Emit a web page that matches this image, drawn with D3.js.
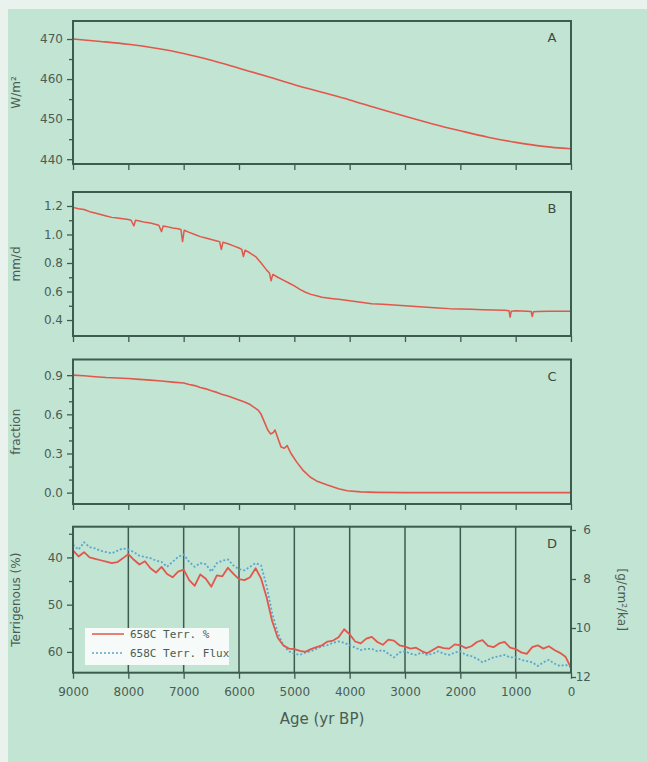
<!DOCTYPE html>
<html>
<head>
<meta charset="utf-8">
<script src="https://cdn.jsdelivr.net/npm/d3@7"></script>
<style>
  body { margin: 0; background: #e9f2ed; }
  svg { display: block; }
</style>
</head>
<body>
<div id="chart"></div>
<script>
// ---- data ----
const ageTicks = [9000, 8000, 7000, 6000, 5000, 4000, 3000, 2000, 1000, 0];

// A: insolation, W/m2
const ageA = [9000, 8500, 8000, 7500, 7000, 6500, 6000, 5500, 5000, 4500, 4000, 3500, 3000, 2500, 2000, 1500, 1000, 500, 0];
const insolation = [470, 469.4, 468.7, 467.7, 466.4, 464.7, 462.7, 460.7, 458.6, 456.7, 454.8, 452.7, 450.7, 448.8, 447.1, 445.5, 444.2, 443.2, 442.6];

// B: precipitation, mm/d
const ageB = [9000, 8900, 8800, 8700, 8600, 8500, 8400, 8300, 8200, 8100, 8000, 7950, 7900, 7870, 7800, 7700, 7600, 7500, 7450, 7400, 7370,
  7300, 7200, 7100, 7050, 7020, 6990, 6900, 6800, 6700, 6600, 6500, 6400, 6350, 6320, 6290, 6200, 6100, 6000, 5950, 5920, 5890,
  5800, 5700, 5600, 5500, 5450, 5420, 5390, 5300, 5200, 5100, 5000, 4900, 4800, 4700, 4600, 4500, 4400, 4300, 4200, 4100, 4000,
  3800, 3600, 3400, 3200, 3000, 2800, 2600, 2400, 2200, 2000, 1800, 1600, 1400, 1200, 1120, 1100, 1080, 1000, 800, 720, 700, 680,
  600, 400, 200, 0];
const precip = [1.19, 1.18, 1.175, 1.16, 1.15, 1.14, 1.13, 1.12, 1.115, 1.11, 1.105, 1.10, 1.06, 1.10, 1.095, 1.085, 1.08, 1.07, 1.065, 1.02, 1.06,
  1.055, 1.045, 1.04, 1.035, 0.95, 1.03, 1.015, 1.0, 0.985, 0.975, 0.965, 0.955, 0.95, 0.895, 0.945, 0.935, 0.92, 0.905, 0.895, 0.845, 0.89,
  0.87, 0.845, 0.80, 0.75, 0.73, 0.675, 0.72, 0.70, 0.68, 0.66, 0.64, 0.615, 0.595, 0.58, 0.57, 0.56, 0.555, 0.55, 0.545, 0.54, 0.535,
  0.525, 0.515, 0.51, 0.505, 0.50, 0.495, 0.49, 0.485, 0.48, 0.478, 0.475, 0.472, 0.47, 0.468, 0.465, 0.42, 0.462, 0.465, 0.462, 0.46, 0.425, 0.458,
  0.46, 0.462, 0.462, 0.462];

// C: vegetation fraction
const ageC = [9000, 8800, 8600, 8400, 8200, 8000, 7800, 7600, 7400, 7200, 7000, 6900, 6800, 6700, 6600, 6500, 6400, 6300, 6200, 6100,
  6000, 5900, 5800, 5700, 5650, 5600, 5540, 5480, 5430, 5380, 5350, 5300, 5240, 5180, 5130, 5060, 4950, 4850, 4715, 4600, 4415,
  4200, 4045, 3800, 3500, 3000, 2000, 1000, 0];
const vegFrac = [0.90, 0.895, 0.888, 0.882, 0.878, 0.875, 0.868, 0.862, 0.855, 0.847, 0.84, 0.828, 0.82, 0.805, 0.795, 0.78, 0.768, 0.752, 0.74, 0.725,
  0.71, 0.695, 0.675, 0.645, 0.63, 0.60, 0.54, 0.48, 0.45, 0.46, 0.48, 0.42, 0.35, 0.34, 0.36, 0.30, 0.23, 0.175, 0.12, 0.09, 0.06,
  0.03, 0.015, 0.006, 0.002, 0.0, 0.0, 0.0, 0.0];

// D: ODP 658C terrigenous % (left axis) and flux (right axis), every 100 yr
const ageD = d3.range(9000, -1, -100);
const terrPct = [38.5, 39.8, 38.9, 40.0, 40.3, 40.6, 40.9, 41.2, 41.0, 40.2,
  39.3, 40.5, 41.5, 40.8, 42.3, 43.2, 42.0, 43.5, 44.2, 43.0,
  42.6, 44.8, 46.0, 43.6, 44.5, 46.2, 43.8, 44.0, 42.2, 43.5,
  44.6, 44.8, 44.2, 42.3, 44.5, 48.5, 53.5, 57.0, 58.6, 59.3,
  59.4, 59.8, 60.0, 59.4, 59.0, 58.6, 57.8, 57.6, 56.9, 55.2,
  56.3, 57.8, 58.2, 57.2, 56.8, 57.9, 58.5, 57.4, 57.6, 58.6,
  58.9, 59.3, 59.1, 59.8, 60.3, 59.6, 58.9, 59.2, 59.3, 58.4,
  58.6, 59.2, 58.8, 57.9, 57.5, 58.7, 59.0, 58.2, 57.9, 59.1,
  59.4, 60.1, 60.4, 59.0, 58.6, 59.3, 58.8, 59.6, 60.2, 61.0,
  63.4];
const terrFlux = [6.6, 6.8, 6.5, 6.7, 6.75, 6.85, 6.9, 6.95, 6.85, 6.75,
  6.8, 6.9, 7.05, 7.1, 7.15, 7.25, 7.3, 7.5, 7.3, 7.1,
  7.0, 7.3, 7.5, 7.35, 7.4, 7.7, 7.35, 7.25, 7.2, 7.45,
  7.6, 7.65, 7.5, 7.35, 7.45, 8.3, 9.4, 10.2, 10.7, 10.95,
  11.05, 11.1, 11.0, 10.95, 10.85, 10.75, 10.7, 10.6, 10.55, 10.6,
  10.7, 10.8, 10.9, 10.85, 10.85, 10.95, 10.9, 11.05, 11.2, 11.0,
  10.95, 11.05, 11.1, 11.0, 11.1, 11.05, 10.95, 11.05, 11.1, 11.0,
  10.95, 11.1, 11.15, 11.25, 11.4, 11.3, 11.2, 11.15, 11.1, 11.2,
  11.2, 11.3, 11.35, 11.4, 11.55, 11.4, 11.3, 11.45, 11.55, 11.5,
  11.6];

const legendLabels = ['658C Terr. %', '658C Terr. Flux'];

// ---- layout ----
const W = 647, H = 762;
const left = 73, right = 571;
const frameColor = '#3d5b4e';
const textColor = '#4a5c53';
const redColor = '#e2574c';
const blueColor = '#5aa6cf';
const font = 'DejaVu Sans, sans-serif';

const svg = d3.select('#chart').append('svg')
  .attr('width', W).attr('height', H);

svg.append('rect').attr('width', W).attr('height', H).attr('fill', '#e9f2ed');
svg.append('rect').attr('x', 8).attr('y', 9).attr('width', W - 8).attr('height', H - 9).attr('fill', '#c2e4d3');

const x = d3.scaleLinear().domain([9000, 0]).range([left, right]);

function styleAxis(g) {
  g.select('.domain').remove();
  g.selectAll('line').attr('stroke', frameColor).attr('stroke-width', 1.3);
  g.selectAll('text').attr('fill', textColor).style('font-family', font).style('font-size', '12px');
}

function drawPanel(p) {
  const y = d3.scaleLinear().domain(p.domain).range([p.bottom, p.top]);

  // minor ticks
  svg.append('g')
    .attr('transform', `translate(${left},0)`)
    .call(d3.axisLeft(y).tickValues(p.minor).tickSize(4).tickFormat(''))
    .call(styleAxis);
  // major ticks
  svg.append('g')
    .attr('transform', `translate(${left},0)`)
    .call(d3.axisLeft(y).tickValues(p.ticks).tickSize(6).tickPadding(4).tickFormat(p.fmt))
    .call(styleAxis);

  // bottom ticks
  const xAxis = d3.axisBottom(x).tickValues(ageTicks).tickSize(6).tickPadding(9)
    .tickFormat(p.xLabels ? d3.format('d') : '');
  svg.append('g')
    .attr('transform', `translate(0,${p.bottom})`)
    .call(xAxis)
    .call(styleAxis);

  // y title
  svg.append('text')
    .attr('transform', `translate(20,${(p.top + p.bottom) / 2}) rotate(-90)`)
    .attr('text-anchor', 'middle')
    .attr('fill', textColor)
    .style('font-family', font).style('font-size', '12px')
    .text(p.title);

  // panel letter
  svg.append('text')
    .attr('x', 552).attr('y', p.top + 21)
    .attr('text-anchor', 'middle')
    .attr('fill', '#3a4b43')
    .style('font-family', font).style('font-size', '13px')
    .text(p.letter);

  return y;
}

function drawFrame(p) {
  svg.append('rect')
    .attr('x', left).attr('y', p.top)
    .attr('width', right - left).attr('height', p.bottom - p.top)
    .attr('fill', 'none').attr('stroke', frameColor).attr('stroke-width', 2);
}

function drawLine(ages, vals, y, color, width, dash, curve) {
  const line = d3.line()
    .x((d, i) => x(ages[i]))
    .y(d => y(d))
    .curve(curve || d3.curveLinear);
  svg.append('path')
    .datum(vals)
    .attr('d', line)
    .attr('fill', 'none')
    .attr('stroke', color)
    .attr('stroke-width', width)
    .attr('stroke-dasharray', dash || null)
    .attr('stroke-linejoin', 'round');
}

// panel A
const pA = { top: 21, bottom: 164, domain: [438.8, 474.5], ticks: [440, 450, 460, 470], minor: [445, 455, 465],
  fmt: d3.format('d'), title: 'W/m²', letter: 'A' };
const yA = drawPanel(pA);
drawLine(ageA, insolation, yA, redColor, 1.6, null, d3.curveMonotoneX);
drawFrame(pA);

// panel B
const pB = { top: 192, bottom: 336, domain: [0.288, 1.298], ticks: [0.4, 0.6, 0.8, 1.0, 1.2], minor: [0.5, 0.7, 0.9, 1.1],
  fmt: d3.format('.1f'), title: 'mm/d', letter: 'B' };
const yB = drawPanel(pB);
drawLine(ageB, precip, yB, redColor, 1.5);
drawFrame(pB);

// panel C
const pC = { top: 359.5, bottom: 504, domain: [-0.087, 1.02], ticks: [0.0, 0.3, 0.6, 0.9], minor: [0.1, 0.2, 0.4, 0.5, 0.7, 0.8],
  fmt: d3.format('.1f'), title: 'fraction', letter: 'C' };
const yC = drawPanel(pC);
drawLine(ageC, vegFrac, yC, redColor, 1.6);
drawFrame(pC);

// panel D
const pD = { top: 526.7, bottom: 672.7, domain: [64.4, 33.5], ticks: [40, 50, 60], minor: [35, 45, 55],
  fmt: d3.format('d'), title: 'Terrigenous (%)', letter: 'D', xLabels: true };
const yD = drawPanel(pD);
const yR = d3.scaleLinear().domain([12, 6]).range([677, 530]);

svg.append('g')
  .attr('transform', `translate(${right},0)`)
  .call(d3.axisRight(yR).tickValues([6, 8, 10, 12]).tickSize(5).tickFormat(d3.format('d')))
  .call(styleAxis)
  .call(g => g.selectAll('text').attr('text-anchor', 'end').attr('x', 20));

svg.append('g')
  .selectAll('line')
  .data(ageTicks.slice(1, -1))
  .join('line')
  .attr('x1', d => x(d)).attr('x2', d => x(d))
  .attr('y1', pD.top).attr('y2', pD.bottom)
  .attr('stroke', frameColor).attr('stroke-width', 1.5);

drawLine(ageD, terrFlux, yR, blueColor, 1.8, '2,2');
drawLine(ageD, terrPct, yD, redColor, 1.8);
drawFrame(pD);

svg.append('text')
  .attr('transform', `translate(618,${(pD.top + pD.bottom) / 2}) rotate(90)`)
  .attr('text-anchor', 'middle')
  .attr('fill', textColor)
  .style('font-family', font).style('font-size', '12px')
  .text('[g/cm²/ka]');

// legend
const legend = svg.append('g').attr('transform', 'translate(85,628)');
legend.append('rect').attr('width', 144).attr('height', 37).attr('fill', '#f6faf8');
legend.selectAll('line')
  .data(legendLabels)
  .join('line')
  .attr('x1', 7).attr('x2', 39)
  .attr('y1', (d, i) => 6 + i * 19).attr('y2', (d, i) => 6 + i * 19)
  .attr('stroke', (d, i) => i === 0 ? redColor : blueColor)
  .attr('stroke-width', 1.5)
  .attr('stroke-dasharray', (d, i) => i === 0 ? null : '2,2');
legend.selectAll('text')
  .data(legendLabels)
  .join('text')
  .attr('x', 45).attr('y', (d, i) => 10 + i * 19)
  .attr('fill', textColor)
  .style('font-family', 'DejaVu Sans Mono, monospace').style('font-size', '11px')
  .text(d => d);

// x title
svg.append('text')
  .attr('x', 322).attr('y', 724)
  .attr('text-anchor', 'middle')
  .attr('fill', textColor)
  .style('font-family', font).style('font-size', '15px')
  .text('Age (yr BP)');
</script>
</body>
</html>
